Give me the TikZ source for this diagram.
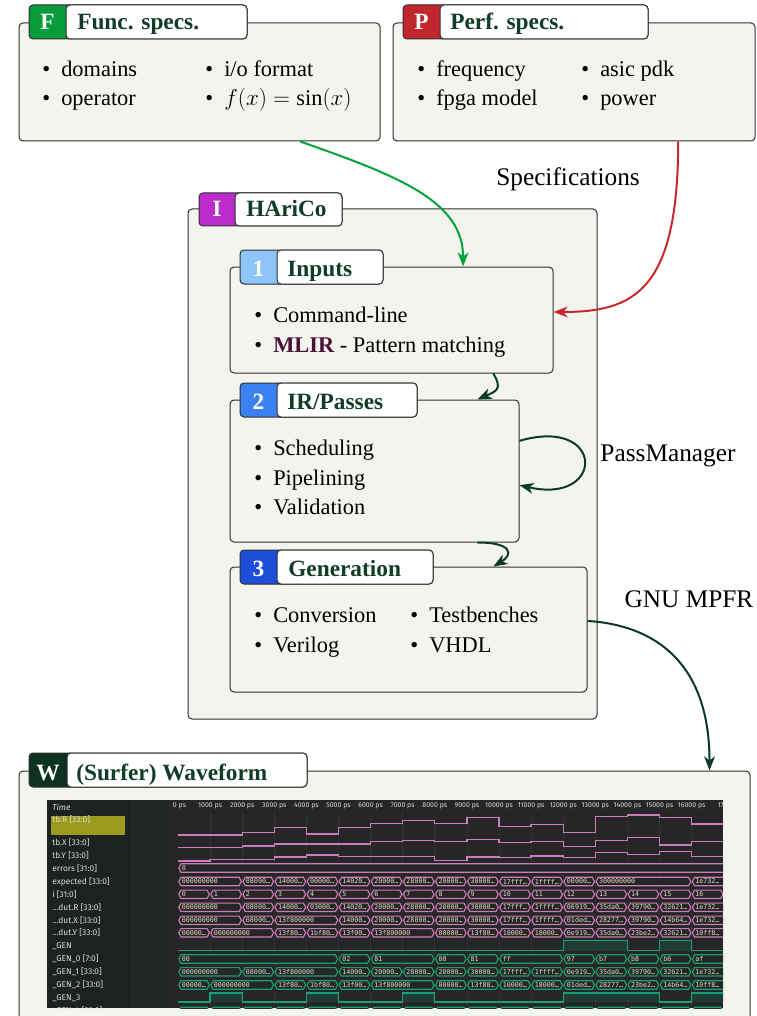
\documentclass[tikz,border=0pt]{standalone}
\usepackage{fontspec}
\setmainfont{Liberation Serif}
\newfontfamily\wavesans{Fira Sans}
\newfontfamily\wavemono{DejaVu Sans Mono}
\usetikzlibrary{fit,calc,arrows.meta}

\definecolor{panelfill}{HTML}{F4F4EF}
\definecolor{edge}{HTML}{2E2E2E}
\definecolor{headgreen}{HTML}{113D28}
\definecolor{badgeF}{HTML}{079B3C}
\definecolor{badgeP}{HTML}{C0272D}
\definecolor{badgeI}{HTML}{BC2BCC}
\definecolor{badgeA}{HTML}{8EC5F8}
\definecolor{badgeB}{HTML}{3B82F0}
\definecolor{badgeC}{HTML}{1D4ED8}
\definecolor{badgeW}{HTML}{0D3320}
\definecolor{mlir}{HTML}{4B1236}
\definecolor{arrowgreen}{HTML}{06A23A}
\definecolor{arrowred}{HTML}{C62A2F}
\definecolor{darkflow}{HTML}{0D3A24}
% waveform viewer colours
\definecolor{wavebg}{HTML}{262626}
\definecolor{namebg}{HTML}{1C2121}
\definecolor{colbg}{HTML}{202525}
\definecolor{gridline}{HTML}{323232}
\definecolor{wavepink}{HTML}{CC7CBB}
\definecolor{wavegreen}{HTML}{17A078}
\definecolor{highfill}{HTML}{1F3D35}
\definecolor{valtext}{HTML}{E6DFC0}
\definecolor{nametext}{HTML}{DADADA}
\definecolor{selbox}{HTML}{9A9A1C}

\newcommand\itm[1]{\makebox[14.25pt][l]{\textbullet}#1}
\newcounter{wv}
% bus segment: style, centre y, first step, last step, value
\newcommand\wbus[5]{%
  \draw[#1, line width=0.85pt, fill=wavebg]
    ({178+32.1*(#3)+0.8},#2) -- ({178+32.1*(#3)+3},#2-4.2) -- ({178+32.1*(#4)-3},#2-4.2)
    -- ({178+32.1*(#4)-0.8},#2) -- ({178+32.1*(#4)-3},#2+4.2) -- ({178+32.1*(#3)+3},#2+4.2) -- cycle;
  \stepcounter{wv}%
  \node[busval] (wv-\arabic{wv}) at ({178+32.1*(#3)+3.5},#2) {#5};
}

\begin{document}
\begin{tikzpicture}[x=0.75pt,y=-0.75pt,
  panel/.style={draw=edge, fill=panelfill, line width=0.75pt, rounded corners=3pt, inner sep=0pt},
  tabcol/.style={draw=edge, fill=#1, line width=0.75pt, rounded corners=3pt, inner sep=0pt},
  tablab/.style={draw=edge, fill=white, line width=0.75pt, rounded corners=3pt, inner sep=0pt},
  badge/.style={text=white, font=\fontsize{17.5}{20}\selectfont\bfseries, inner sep=0pt, anchor=base},
  title/.style={text=headgreen, font=\fontsize{17.5}{20}\selectfont\bfseries, inner sep=0pt, anchor=base west},
  entry/.style={font=\fontsize{16.8}{20}\selectfont, inner sep=0pt, anchor=base west},
  note/.style={font=\fontsize{19}{22}\selectfont, inner sep=0pt, anchor=base},
  flow/.style={line width=1.5pt, -{Stealth[length=10.5pt,width=8pt,inset=3pt]}},
  busval/.style={font=\wavemono\fontsize{5}{6}\selectfont, text=valtext, inner sep=0pt, anchor=west},
  signame/.style={font=\wavesans\fontsize{6.3}{7}\selectfont, text=nametext, inner sep=0pt, anchor=west},
  ticklabel/.style={font=\wavesans\fontsize{5.2}{6}\selectfont, text=nametext, inner sep=0pt},
  pinkbus/.style={draw=wavepink},
  greenbus/.style={draw=wavegreen},
  trace/.style={line width=1pt},
]
\useasboundingbox (0,0) rectangle (756,1016);
\fill[white] (0,0) rectangle (756,1016);

% ---------- functional specifications ----------
\node[panel, fit={(19,23) (380,141)}] (F) {};
\node[tabcol=badgeF, fit={(29,5) (247,39)}] (Ftab) {};
\node[tablab, fit={(66,5) (247,39)}] (Flab) {};
\node[badge] (Fb) at (47.5,30) {F};
\node[title] (Ft) at (77,30) {Func. specs.};
\node[entry] (F1) at (42,77) {\itm{domains}};
\node[entry] (F2) at (42,106) {\itm{operator}};
\node[entry] (F3) at (205,77) {\itm{i/o format}};
\node[entry] (F4) at (205,106) {\itm{$f(x)=\sin(x)$}};

% ---------- performance specifications ----------
\node[panel, fit={(393,23) (755,141)}] (P) {};
\node[tabcol=badgeP, fit={(403,5) (648,39)}] (Ptab) {};
\node[tablab, fit={(440,5) (648,39)}] (Plab) {};
\node[badge] (Pb) at (421.5,30) {P};
\node[title] (Pt) at (450,30) {Perf. specs.};
\node[entry] (P1) at (417,77) {\itm{frequency}};
\node[entry] (P2) at (417,106) {\itm{fpga model}};
\node[entry] (P3) at (581,77) {\itm{asic pdk}};
\node[entry] (P4) at (581,106) {\itm{power}};

\node[note] (spec) at (568,186) {Specifications};

% ---------- HAriCo ----------
\node[panel, fit={(188,209) (597,719)}] (I) {};
\node[tabcol=badgeI, fit={(199,193) (342,226)}] (Itab) {};
\node[tablab, fit={(235,193) (342,226)}] (Ilab) {};
\node[badge] (Ib) at (217,217) {I};
\node[title] (It) at (246,217) {HAriCo};

% inputs
\node[panel, fit={(230,267) (553,373)}] (In) {};
\node[tabcol=badgeA, fit={(240,250) (383,284)}] (Intab) {};
\node[tablab, fit={(277,250) (383,284)}] (Inlab) {};
\node[badge] (Inb) at (258.5,276) {1};
\node[title] (Int) at (287,276) {Inputs};
\node[entry] (In1) at (254,322) {\itm{Command-line}};
\node[entry] (In2) at (254,352) {\itm{\textcolor{mlir}{\bfseries MLIR} - Pattern matching}};

% IR / passes
\node[panel, fit={(230,400) (519,542)}] (IR) {};
\node[tabcol=badgeB, fit={(240,383) (417,417)}] (IRtab) {};
\node[tablab, fit={(277,383) (417,417)}] (IRlab) {};
\node[badge] (IRb) at (258.5,409) {2};
\node[title] (IRt) at (287,409) {IR/Passes};
\node[entry] (IR1) at (254,455) {\itm{Scheduling}};
\node[entry] (IR2) at (254,485) {\itm{Pipelining}};
\node[entry] (IR3) at (254,514) {\itm{Validation}};
\node[note] (pm) at (668,461) {PassManager};

% generation
\node[panel, fit={(230,567) (587,692)}] (Gen) {};
\node[tabcol=badgeC, fit={(240,550) (433,584)}] (Gentab) {};
\node[tablab, fit={(277,550) (433,584)}] (Genlab) {};
\node[badge] (Genb) at (258.5,576) {3};
\node[title] (Gent) at (288,576) {Generation};
\node[entry] (G1) at (254,622) {\itm{Conversion}};
\node[entry] (G2) at (254,652) {\itm{Verilog}};
\node[entry] (G3) at (410,622) {\itm{Testbenches}};
\node[entry] (G4) at (410,652) {\itm{VHDL}};
\node[note] (mpfr) at (689,607) {GNU MPFR};

% ---------- waveform ----------
\begin{scope}
\clip (0,0) rectangle (756,1016);
\node[panel, fit={(19,771) (750,1040)}] (W) {};
\end{scope}
\node[tabcol=badgeW, fit={(29,753) (307,787)}] (Wtab) {};
\node[tablab, fit={(67,753) (307,787)}] (Wlab) {};
\node[badge] (Wb) at (48,780) {W};
\node[title] (Wt) at (76,780) {(Surfer) Waveform};

\begin{scope}
\clip (47,800) rectangle (723,1008);
\fill[wavebg] (47,800) rectangle (723,1008);
\fill[namebg] (47,800) rectangle (130,1008);
\fill[colbg] (130,800) rectangle (169,1008);
\foreach \k in {1,...,16} \draw[gridline, line width=0.6pt] ({178+32.1*\k},813) -- ({178+32.1*\k},1008);
% time ruler
\node[ticklabel] (t0) at (179.5,806) {0 ps};
\foreach \k in {1,...,16} \node[ticklabel] (t\k) at ({178+32.1*\k},806) {\k000 ps};
\node[ticklabel] (t17) at (731,806) {17000 ps};
% signal names
\fill[selbox] (51,816) rectangle (125,835);
\node[signame, font=\wavesans\itshape\fontsize{6.3}{7}\selectfont] (nT) at (52,807) {Time};
\node[signame] (n1) at (52,820) {tb.R [33:0]};
\node[signame] (n2) at (52,842.5) {tb.X [33:0]};
\node[signame] (n3) at (52,855.5) {tb.Y [33:0]};
\node[signame] (n4) at (52,868.5) {errors [31:0]};
\node[signame] (n5) at (52,881.5) {expected [33:0]};
\node[signame] (n6) at (52,894.3) {i [31:0]};
\node[signame] (n7) at (52,907.3) {…dut.R [33:0]};
\node[signame] (n8) at (52,920.3) {…dut.X [33:0]};
\node[signame] (n9) at (52,933) {…dut.Y [33:0]};
\node[signame] (n10) at (52,946) {\_GEN};
\node[signame] (n11) at (52,959) {\_GEN\_0 [7:0]};
\node[signame] (n12) at (52,972) {\_GEN\_1 [33:0]};
\node[signame] (n13) at (52,985) {\_GEN\_2 [33:0]};
\node[signame] (n14) at (52,998) {\_GEN\_3};
\node[signame] (n15) at (52,1011) {\_GEN\_4 [33:0]};

% analogue traces
\draw[wavepink, trace] (178,835) \foreach \i/\v in {0/835,1/835,2/832.3,3/827.7,4/834,5/827.7,6/823.7,7/820.7,8/823.7,9/817.7,10/826.7,11/824.3,12/832.3,13/816.7,14/815,15/817.7,16/824}
  { -- ({178+32.1*\i},\v) -- ({178+32.1*(\i+1)},\v) };
\draw[wavepink, trace] (178,847.3) \foreach \i/\v in {0/847.3,1/847.3,2/846,3/844,4/844,5/844,6/841.7,7/840.3,8/841.7,9/839.3,10/842.7,11/841.7,12/846.7,13/840.7,14/837.7,15/845,16/841.7}
  { -- ({178+32.1*\i},\v) -- ({178+32.1*(\i+1)},\v) };
\draw[wavepink, trace] (178,861) \foreach \i/\v in {0/861,1/859.3,2/859.3,3/857,4/855,5/856.7,6/856.7,7/856.7,8/860.7,9/857,10/857.3,11/856,12/857.7,13/852.3,14/854.3,15/851.7,16/856.7}
  { -- ({178+32.1*\i},\v) -- ({178+32.1*(\i+1)},\v) };

% buses
\wbus{pinkbus}{868}{0}{17.3}{0}
\foreach \a/\b/\t in {0/2/000000000, 2/3/08000…, 3/4/14000…, 4/5/00000…, 5/6/14020…, 6/7/20000…, 7/8/28000…, 8/9/20000…, 9/10/30000…, 10/11/17fff…, 11/12/1ffff…, 12/13/00000…, 13/16/300000000, 16/17.3/1e732…}
  {\wbus{pinkbus}{881.5}{\a}{\b}{\t}}
\foreach \a in {0,...,16}
  {\wbus{pinkbus}{894.3}{\a}{\a+1}{\a}}
\foreach \a/\b/\t in {0/2/000000000, 2/3/08000…, 3/4/14000…, 4/5/03000…, 5/6/14020…, 6/7/20000…, 7/8/28000…, 8/9/20000…, 9/10/30000…, 10/11/17fff…, 11/12/1ffff…, 12/13/06919…, 13/14/35da0…, 14/15/39790…, 15/16/32621…, 16/17.3/1e732…}
  {\wbus{pinkbus}{907.3}{\a}{\b}{\t}}
\foreach \a/\b/\t in {0/2/000000000, 2/3/08000…, 3/5/13f800000, 5/6/14000…, 6/7/20000…, 7/8/28000…, 8/9/20000…, 9/10/30000…, 10/11/17fff…, 11/12/1ffff…, 12/13/01ded…, 13/14/28277…, 14/15/39790…, 15/16/14b64…, 16/17.3/1e732…}
  {\wbus{pinkbus}{920.3}{\a}{\b}{\t}}
\foreach \a/\b/\t in {0/1/00000…, 1/3/000000000, 3/4/13f80…, 4/5/1bf80…, 5/6/13f00…, 6/8/13f800000, 8/9/00000…, 9/10/13f80…, 10/11/10000…, 11/12/18000…, 12/13/0e919…, 13/14/35da0…, 14/15/23be2…, 15/16/32621…, 16/17.3/10ff8…}
  {\wbus{pinkbus}{932.8}{\a}{\b}{\t}}

% _GEN (single bit)
\fill[highfill] ({178+32.1*12},940.7) rectangle ({178+32.1*14},950.5);
\fill[highfill] ({178+32.1*15},940.7) rectangle ({178+32.1*16},950.5);
\draw[wavegreen, trace] (178,950.5) -- ({178+32.1*12},950.5) -- ({178+32.1*12},940.7)
  -- ({178+32.1*14},940.7) -- ({178+32.1*14},950.5) -- ({178+32.1*15},950.5) -- ({178+32.1*15},940.7)
  -- ({178+32.1*16},940.7) -- ({178+32.1*16},950.5) -- (730,950.5);

\foreach \a/\b/\t in {0/5/00, 5/6/02, 6/8/81, 8/9/00, 9/10/81, 10/12/ff, 12/13/97, 13/14/b7, 14/15/b8, 15/16/b6, 16/17.3/af}
  {\wbus{greenbus}{959}{\a}{\b}{\t}}
\foreach \a/\b/\t in {0/2/000000000, 2/3/08000…, 3/5/13f800000, 5/6/14000…, 6/7/20000…, 7/8/28000…, 8/9/20000…, 9/10/30000…, 10/11/17fff…, 11/12/1ffff…, 12/13/0e919…, 13/14/35da0…, 14/15/39790…, 15/16/32621…, 16/17.3/1e732…}
  {\wbus{greenbus}{971.8}{\a}{\b}{\t}}
\foreach \a/\b/\t in {0/1/00000…, 1/3/000000000, 3/4/13f80…, 4/5/1bf80…, 5/6/13f00…, 6/8/13f800000, 8/9/00000…, 9/10/13f80…, 10/11/10000…, 11/12/18000…, 12/13/01ded…, 13/14/28277…, 14/15/23be2…, 15/16/14b64…, 16/17.3/10ff8…}
  {\wbus{greenbus}{985}{\a}{\b}{\t}}

% _GEN_3 (single bit)
\foreach \a/\b in {1/2, 4/5, 7/8, 12/15, 16/17.3}
  \fill[highfill] ({178+32.1*\a},993) rectangle ({178+32.1*\b},1002);
\draw[wavegreen, trace] (178,1002)
  \foreach \a/\b in {1/2, 4/5, 7/8, 12/15, 16/17.3}
  { -- ({178+32.1*\a},1002) -- ({178+32.1*\a},993) -- ({178+32.1*\b},993) -- ({178+32.1*\b},1002) };

% next bus, mostly below the visible area
\foreach \a in {0,...,16}
  {\wbus{greenbus}{1011.5}{\a}{\a+1}{}}
\end{scope}

% ---------- connectors ----------
\draw[flow, color=arrowgreen] ($(F.south west)!0.778!(F.south east)$)
  .. controls +(100,35) and +(0,-65) .. ($(In.north west)!0.721!(In.north east)$);
\draw[flow, color=arrowred] ($(P.south west)!0.787!(P.south east)$)
  .. controls +(0,150) and +(80,0) .. ($(In.north east)!0.425!(In.south east)$);
\draw[flow, color=darkflow] ($(In.south west)!0.814!(In.south east)$)
  .. controls +(10,16) and +(18,-8) .. ($(IR.north west)!0.855!(IR.north east)$);
\draw[flow, color=darkflow] ($(IR.north east)!0.289!(IR.south east)$)
  .. controls +(86,-25) and +(86,20) .. ($(IR.north east)!0.599!(IR.south east)$);
\draw[flow, color=darkflow] ($(IR.south west)!0.855!(IR.south east)$)
  .. controls +(35,0) and +(20,-12) .. ($(Gen.north west)!0.737!(Gen.north east)$);
\draw[flow, color=darkflow] ($(Gen.north east)!0.432!(Gen.south east)$)
  .. controls +(65,4) and +(0,-110) .. ($(W.north west)!0.944!(W.north east)$);
\end{tikzpicture}
\end{document}
